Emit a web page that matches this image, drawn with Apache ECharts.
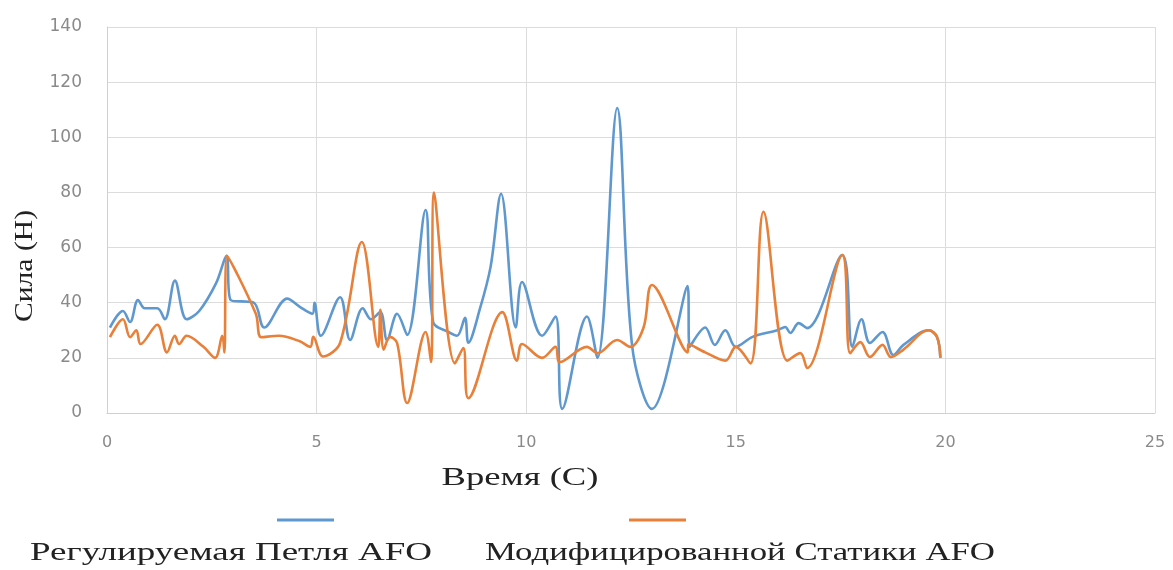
<!DOCTYPE html>
<html>
<head>
<meta charset="utf-8">
<script src="https://cdn.jsdelivr.net/npm/echarts@6/dist/echarts.min.js"></script>
<style>
  html, body { margin: 0; padding: 0; background: #fff; }
  #chart { width: 1173px; height: 570px; }
</style>
</head>
<body>
<div id="chart"></div>
<script>
// Force measurements over time: [time in s, force in N]
const seriesNames = ['Регулируемая Петля AFO', 'Модифицированной Статики AFO'];
const seriesColors = ['#5f98cf', '#e8803a'];

const adjustableLoop = [
  [0.07,31],[0.38,37],[0.55,33],[0.74,41],[0.9,38],[1.2,38],[1.38,34],[1.62,48],[1.9,34],
  [2.2,37],[2.6,47],[2.85,57],[2.95,41],[3.5,40],[3.75,31],[4.3,41.5],[4.6,38.5],[4.9,36],
  [4.95,40],[5.1,28],[5.56,42],[5.8,26.5],[6.1,38],[6.3,34],[6.52,36.6],[6.68,26.5],[6.92,36],
  [7.16,28.3],[7.6,73.6],[7.78,33],[8.14,29.4],[8.35,28],[8.54,34.5],[8.62,25.5],[8.9,38],
  [9.15,53],[9.4,79.5],[9.75,31],[9.9,47.5],[10.38,28],[10.7,35],[10.86,1.5],[11.45,35],
  [11.7,20],[12.17,110.6],[12.53,24],[13.0,1.5],[13.85,46],[13.9,24],[14.27,31],[14.5,24.7],
  [14.75,30],[15.0,24],[15.4,27.6],[15.99,30],[16.18,31.2],[16.3,29],[16.5,32.6],[16.7,30.8],
  [17.54,57.3],[17.78,24],[18.0,34],[18.2,25.4],[18.5,29.4],[18.76,21],[19.0,24.7],[19.6,30],
  [19.8,27.6],[19.88,20]
];

const modifiedStatic = [
  [0.07,27.5],[0.38,34],[0.55,27.5],[0.7,30],[0.8,25],[1.2,32],[1.43,22],[1.62,28],[1.72,25],
  [1.9,28],[2.3,24],[2.58,20],[2.75,28],[2.8,22],[2.86,57],[3.55,36],[3.68,27.5],[4.1,28],
  [4.6,26],[4.85,24],[4.92,27.6],[5.15,20.5],[5.56,25.4],[6.08,62],[6.47,24],[6.52,37.4],
  [6.6,23],[6.75,27.6],[6.92,25.4],[7.16,3.6],[7.6,29.4],[7.73,18.5],[7.8,80],[8.3,18],
  [8.5,23.6],[8.62,5.4],[9.43,36.6],[9.78,19],[9.9,25],[10.38,20],[10.7,24],[10.8,18.5],
  [11.45,24],[11.7,21.7],[12.17,26.5],[12.48,24],[12.8,31],[13.0,46.4],[13.85,22],[13.87,25],
  [14.27,22],[14.75,19],[15.0,24],[15.35,18],[15.66,73],[16.23,19],[16.54,21.7],[16.7,16.3],
  [17.54,57.3],[17.73,21.7],[17.97,25.7],[18.2,20.3],[18.5,24.7],[18.7,20.3],[19.0,23],
  [19.6,30],[19.8,27.6],[19.88,20]
];

const xTitle = 'Время (С)';
const yTitle = 'Сила (Н)';

const serifFont = '25px "Liberation Serif", "DejaVu Serif", serif';
const sansFamily = '"DejaVu Sans", "Open Sans", sans-serif';

// The titles and legend captions use a wide serif face: stretch each
// caption horizontally so it spans the given width.
const measureCtx = document.createElement('canvas').getContext('2d');
function stretchFor(text, font, width) {
  measureCtx.font = font;
  return width / measureCtx.measureText(text).width;
}

function caption(text, x, y, width, align, rotation) {
  return {
    type: 'text',
    x: x, y: y,
    rotation: rotation || 0,
    scaleX: stretchFor(text, serifFont, width),
    style: { text: text, font: serifFont, fill: '#222', align: align, verticalAlign: 'middle' }
  };
}

// Legend: line swatch sitting above each caption
const legendLayout = [
  { lineX: 277, textX: 30, textW: 402 },
  { lineX: 629, textX: 485, textW: 510 }
];
const legendGraphics = [];
seriesNames.forEach((name, i) => {
  legendGraphics.push({
    type: 'line',
    shape: { x1: legendLayout[i].lineX, y1: 520, x2: legendLayout[i].lineX + 57, y2: 520 },
    style: { stroke: seriesColors[i], lineWidth: 3 }
  });
  legendGraphics.push(caption(name, legendLayout[i].textX, 553, legendLayout[i].textW, 'left'));
});

const chart = echarts.init(document.getElementById('chart'));

chart.setOption({
  animation: false,
  backgroundColor: '#fff',
  grid: { left: 107, right: 18, top: 27, bottom: 157 },
  xAxis: {
    type: 'value',
    min: 0, max: 25, interval: 5,
    axisLine: { show: true, lineStyle: { color: '#d0d0d0', width: 1 } },
    axisTick: { show: false },
    axisLabel: { color: '#8a8a8a', fontFamily: sansFamily, fontSize: 16, margin: 22 },
    splitLine: { show: true, lineStyle: { color: '#dcdcdc', width: 1 } }
  },
  yAxis: {
    type: 'value',
    min: 0, max: 140, interval: 20,
    axisLine: { show: true, lineStyle: { color: '#d0d0d0', width: 1 } },
    axisTick: { show: false },
    axisLabel: { color: '#8a8a8a', fontFamily: sansFamily, fontSize: 17, margin: 25 },
    splitLine: { show: true, lineStyle: { color: '#dcdcdc', width: 1 } }
  },
  graphic: [
    caption(xTitle, 520, 478, 157, 'center'),
    caption(yTitle, 25, 266, 112, 'center', Math.PI / 2)
  ].concat(legendGraphics),
  series: [
    {
      name: seriesNames[0],
      type: 'line',
      data: adjustableLoop,
      smooth: 0.35,
      showSymbol: false,
      lineStyle: { color: seriesColors[0], width: 2.6 },
      itemStyle: { color: seriesColors[0] }
    },
    {
      name: seriesNames[1],
      type: 'line',
      data: modifiedStatic,
      smooth: 0.35,
      showSymbol: false,
      lineStyle: { color: seriesColors[1], width: 2.6 },
      itemStyle: { color: seriesColors[1] }
    }
  ]
});
</script>
</body>
</html>
